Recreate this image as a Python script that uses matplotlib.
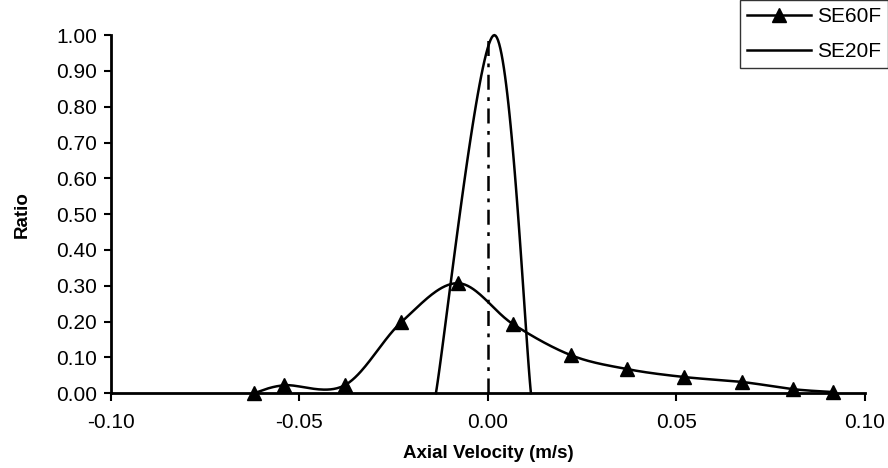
import numpy as np
import matplotlib.pyplot as plt

# data
se60f_x = [-0.062, -0.054, -0.038, -0.023, -0.008, 0.0066, 0.022, 0.037, 0.052, 0.0675, 0.081, 0.0915]
se60f_y = [0.0, 0.022, 0.022, 0.198, 0.307, 0.193, 0.106, 0.067, 0.045, 0.031, 0.011, 0.003]

se20f_x = [-0.0138, 0.0017, 0.0114]
se20f_y = [0.0, 1.0, 0.0]

mean_x = [0.0, 0.0]
mean_y = [0.0, 1.0]

x_ticks = [-0.10, -0.05, 0.0, 0.05, 0.10]
y_ticks = np.arange(0, 1.01, 0.1)


def smooth(xs, ys, n=40):
    # Excel-style smoothed line: cubic bezier with control points at 1/6 of neighbour span
    xs = np.asarray(xs, float)
    ys = np.asarray(ys, float)
    px, py = [], []
    for i in range(len(xs) - 1):
        i0 = max(i - 1, 0)
        i3 = min(i + 2, len(xs) - 1)
        c1x = xs[i] + (xs[i + 1] - xs[i0]) / 6
        c1y = ys[i] + (ys[i + 1] - ys[i0]) / 6
        c2x = xs[i + 1] - (xs[i3] - xs[i]) / 6
        c2y = ys[i + 1] - (ys[i3] - ys[i]) / 6
        t = np.linspace(0, 1, n)
        a, b, c, d = (1 - t) ** 3, 3 * (1 - t) ** 2 * t, 3 * (1 - t) * t ** 2, t ** 3
        px.extend(a * xs[i] + b * c1x + c * c2x + d * xs[i + 1])
        py.extend(a * ys[i] + b * c1y + c * c2y + d * ys[i + 1])
    return np.array(px), np.array(py)


plt.rcParams['font.family'] = ['Liberation Sans', 'DejaVu Sans']

fig = plt.figure(figsize=(8.88, 4.68), dpi=100)
ax = fig.add_axes([0.125, 0.160, 0.849, 0.765])

sx, sy = smooth(se60f_x, se60f_y)
ax.plot(sx, sy, color='black', lw=1.8, clip_on=False)
ax.plot(se60f_x, se60f_y, ls='none', marker='^', ms=10, color='black', clip_on=False)

tx, ty = smooth(se20f_x, se20f_y)
ax.plot(tx, ty, color='black', lw=1.8, clip_on=False)

ax.plot(mean_x, mean_y, color='black', lw=1.8, ls=(0, (6, 3, 1.5, 3)))

# legend handles
h1, = ax.plot([], [], color='black', lw=1.8, marker='^', ms=10)
h2, = ax.plot([], [], color='black', lw=1.8)
leg = fig.legend([h1, h2], ['SE60F', 'SE20F'], loc='upper right', bbox_to_anchor=(1.0, 1.0),
                 fontsize=15, handlelength=3.1, frameon=True, fancybox=False,
                 edgecolor='black', borderpad=0.35, labelspacing=0.75, handletextpad=0.25,
                 borderaxespad=0.0)
leg.get_frame().set_linewidth(1.0)

ax.set_xlim(-0.10, 0.10)
ax.set_ylim(0, 1.0)
ax.set_xticks(x_ticks)
ax.set_xticklabels(['%.2f' % v for v in x_ticks])
ax.set_yticks(y_ticks)
ax.set_yticklabels(['%.2f' % v for v in y_ticks])
ax.tick_params(axis='both', labelsize=15, width=1.5, length=5, color='black')
ax.tick_params(axis='y', pad=5)
ax.tick_params(axis='x', length=6, pad=8)
ax.spines['top'].set_visible(False)
ax.spines['right'].set_visible(False)
ax.spines['left'].set_linewidth(2)
ax.spines['bottom'].set_linewidth(2)

ax.set_xlabel('Axial Velocity (m/s)', fontsize=13.5, fontweight='bold', labelpad=10)
ax.set_ylabel('Ratio', fontsize=13.5, fontweight='bold', labelpad=18)

plt.savefig('out.png', dpi=100)
